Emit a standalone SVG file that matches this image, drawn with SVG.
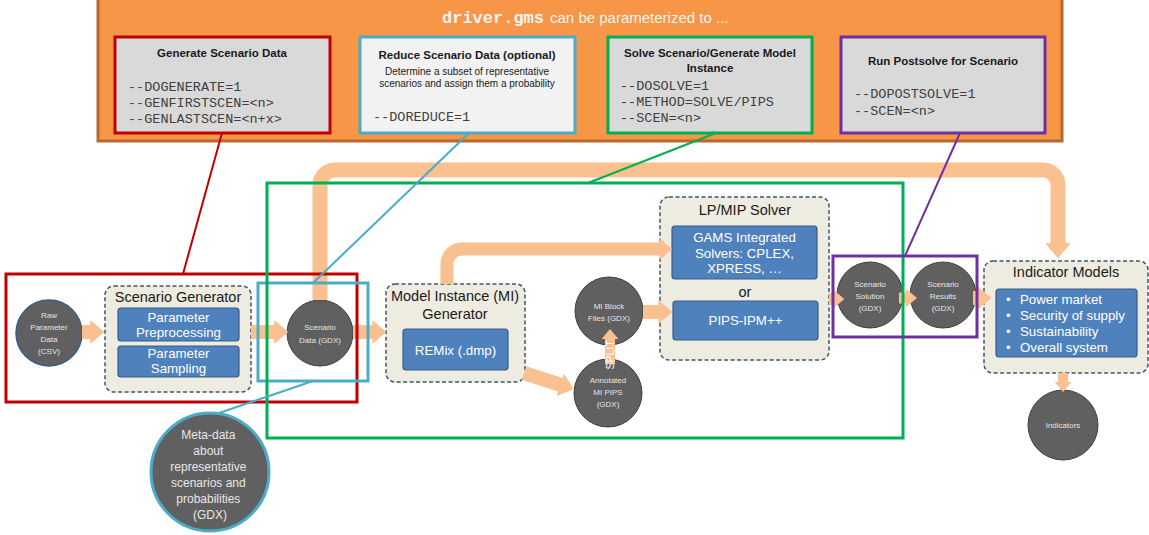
<svg xmlns="http://www.w3.org/2000/svg" width="1149" height="535" viewBox="0 0 1149 535">
<style>
.sans{font-family:"Liberation Sans",Arial,sans-serif}
.mono{font-family:"Liberation Mono","Courier New",monospace;font-size:13.5px;fill:#404040}
.ptitle{font-family:"Liberation Sans",Arial,sans-serif;font-size:11.5px;font-weight:bold;fill:#1a1a1a;text-anchor:middle}
.pdesc{font-family:"Liberation Sans",Arial,sans-serif;font-size:10px;fill:#1a1a1a;text-anchor:middle}
.pbox{stroke-width:3}
.dash{fill:#eeece1;stroke:#44546a;stroke-width:1.5;stroke-dasharray:4 2.5}
.dtitle{font-family:"Liberation Sans",Arial,sans-serif;font-size:14.5px;fill:#1a1a1a;text-anchor:middle}
.blue{fill:#4f81bd;stroke:#385d8a;stroke-width:1.2}
.btext{font-family:"Liberation Sans",Arial,sans-serif;font-size:13.3px;fill:#ffffff;text-anchor:middle}
.blist{font-family:"Liberation Sans",Arial,sans-serif;font-size:13.3px;fill:#ffffff;text-anchor:start}
.circ{fill:#606060;stroke:#3f3f3f;stroke-width:1}
.ctext{font-family:"Liberation Sans",Arial,sans-serif;font-size:8px;fill:#e6e6e6;text-anchor:middle}
.flow{fill:none;stroke:#fac08f;marker-end:url(#ah)}
.frame{fill:none;stroke-width:3}
.call{fill:none;stroke-width:2}
</style>
<defs>
<marker id="ah" viewBox="0 0 10 17" markerWidth="1" markerHeight="1.7" refX="0.5" refY="8.5" orient="auto" markerUnits="strokeWidth">
<path d="M0,0 L10,8.5 L0,17 z" fill="#fac08f"/>
</marker>
</defs>

<g id="banner">
<rect x="98" y="-2" width="964" height="143" fill="#f79646" stroke="#b9682e" stroke-width="3"/>
<text x="442" y="23" class="sans" fill="#f5f5f5"><tspan font-family="Liberation Mono,monospace" font-weight="bold" font-size="17">driver.gms</tspan><tspan font-size="15" dx="6">can be parameterized to ...</tspan></text>
</g>

<g id="p-generate">
<rect class="pbox" x="115" y="37" width="215" height="96" fill="#d9d9d9" stroke="#c00000"/>
<text class="ptitle" x="222" y="57">Generate Scenario Data</text>
<text class="mono" x="128" y="91">--DOGENERATE=1</text>
<text class="mono" x="128" y="107">--GENFIRSTSCEN=&lt;n&gt;</text>
<text class="mono" x="128" y="123">--GENLASTSCEN=&lt;n+x&gt;</text>
</g>
<g id="p-reduce">
<rect class="pbox" x="360" y="37" width="215" height="96" fill="#f2f2f2" stroke="#4bacc6"/>
<text class="ptitle" x="467" y="59">Reduce Scenario Data (optional)</text>
<text class="pdesc" x="467" y="74.5">Determine a subset of representative</text>
<text class="pdesc" x="467" y="87">scenarios and assign them a probability</text>
<text class="mono" x="373" y="121">--DOREDUCE=1</text>
</g>
<g id="p-solve">
<rect class="pbox" x="608" y="37" width="204" height="96" fill="#d9d9d9" stroke="#00b050"/>
<text class="ptitle" x="710" y="57">Solve Scenario/Generate Model</text>
<text class="ptitle" x="710" y="72">Instance</text>
<text class="mono" x="620" y="90">--DOSOLVE=1</text>
<text class="mono" x="620" y="106">--METHOD=SOLVE/PIPS</text>
<text class="mono" x="620" y="122">--SCEN=&lt;n&gt;</text>
</g>
<g id="p-postsolve">
<rect class="pbox" x="841" y="37" width="204" height="96" fill="#d9d9d9" stroke="#7030a0"/>
<text class="ptitle" x="943" y="65">Run Postsolve for Scenario</text>
<text class="mono" x="854" y="98">--DOPOSTSOLVE=1</text>
<text class="mono" x="854" y="115">--SCEN=&lt;n&gt;</text>
</g>

<g id="raw-data">
<circle cx="49" cy="333" r="33" fill="#606060" stroke="#385d8a" stroke-width="1.5"/>
<text class="ctext" x="49" y="318">Raw</text>
<text class="ctext" x="49" y="330">Parameter</text>
<text class="ctext" x="49" y="342">Data</text>
<text class="ctext" x="49" y="354">(CSV)</text>
</g>
<g id="scenario-generator">
<rect class="dash" x="105" y="286" width="146" height="106" rx="9"/>
<text class="dtitle" x="178" y="302">Scenario Generator</text>
<rect class="blue" x="118" y="308" width="121" height="33" rx="3"/>
<text class="btext" x="178.5" y="322">Parameter</text>
<text class="btext" x="178.5" y="337">Preprocessing</text>
<rect class="blue" x="118" y="346" width="121" height="31" rx="3"/>
<text class="btext" x="178.5" y="358">Parameter</text>
<text class="btext" x="178.5" y="373">Sampling</text>
</g>
<g id="scenario-data">
<circle class="circ" cx="320" cy="333" r="33"/>
<text class="ctext" x="320" y="330">Scenario</text>
<text class="ctext" x="320" y="343">Data (GDX)</text>
</g>
<g id="meta-data">
<circle cx="210" cy="472" r="59" fill="#606060" stroke="#4bacc6" stroke-width="3"/>
<text class="sans" font-size="12" fill="#e6e6e6" text-anchor="middle">
<tspan x="210" y="439">Meta-data</tspan>
<tspan x="210" y="455">about</tspan>
<tspan x="210" y="471">representative</tspan>
<tspan x="210" y="487">scenarios and</tspan>
<tspan x="210" y="503">probabilities</tspan>
<tspan x="210" y="519">(GDX)</tspan>
</text>
</g>
<g id="mi-generator">
<rect class="dash" x="386" y="284" width="139" height="98" rx="9"/>
<text class="dtitle" x="455" y="301">Model Instance (MI)</text>
<text class="dtitle" x="455" y="319">Generator</text>
<rect class="blue" x="403" y="329" width="105" height="41" rx="3"/>
<text class="btext" x="455.5" y="355">REMix (.dmp)</text>
</g>
<g id="mi-block-files">
<circle class="circ" cx="609" cy="311" r="34"/>
<text class="ctext" x="609" y="309">MI Block</text>
<text class="ctext" x="609" y="321">Files (GDX)</text>
</g>
<g id="annotated-mi">
<circle class="circ" cx="608" cy="393" r="34"/>
<text class="ctext" x="608" y="383">Annotated</text>
<text class="ctext" x="608" y="395">MI PIPS</text>
<text class="ctext" x="608" y="407">(GDX)</text>
</g>
<g id="lp-mip-solver">
<rect class="dash" x="660" y="197" width="169" height="163" rx="9"/>
<text class="dtitle" x="745" y="215">LP/MIP Solver</text>
<rect class="blue" x="672" y="226" width="145" height="53" rx="3"/>
<text class="btext" x="744.5" y="242">GAMS Integrated</text>
<text class="btext" x="744.5" y="258">Solvers: CPLEX,</text>
<text class="btext" x="744.5" y="273">XPRESS, …</text>
<text class="dtitle" x="745" y="297">or</text>
<rect class="blue" x="673" y="301" width="145" height="39" rx="3"/>
<text class="btext" x="745.5" y="325">PIPS-IPM++</text>
</g>
<g id="scenario-solution">
<circle class="circ" cx="870" cy="295" r="33"/>
<text class="ctext" x="870" y="287">Scenario</text>
<text class="ctext" x="870" y="299">Solution</text>
<text class="ctext" x="870" y="311">(GDX)</text>
</g>
<g id="scenario-results">
<circle class="circ" cx="943" cy="295" r="33"/>
<text class="ctext" x="943" y="287">Scenario</text>
<text class="ctext" x="943" y="299">Results</text>
<text class="ctext" x="943" y="311">(GDX)</text>
</g>
<g id="indicator-models">
<rect class="dash" x="984" y="261" width="164" height="112" rx="9"/>
<text class="dtitle" x="1066" y="277">Indicator Models</text>
<rect class="blue" x="996" y="289" width="141" height="68" rx="3"/>
<text class="blist" x="1006" y="304">•</text><text class="blist" x="1020" y="304">Power market</text>
<text class="blist" x="1006" y="320">•</text><text class="blist" x="1020" y="320">Security of supply</text>
<text class="blist" x="1006" y="336">•</text><text class="blist" x="1020" y="336">Sustainability</text>
<text class="blist" x="1006" y="352">•</text><text class="blist" x="1020" y="352">Overall system</text>
</g>
<g id="indicators">
<circle class="circ" cx="1063" cy="425" r="35"/>
<text class="ctext" x="1063" y="428" font-size="8.5">Indicators</text>
</g>

<g id="connectors">
<path class="flow" stroke-width="14" d="M82,332 H91"/>
<path class="flow" stroke-width="14" d="M251,332 H275"/>
<path class="flow" stroke-width="14" d="M353,332 H373"/>
<path class="flow" stroke-width="15" d="M320,300 V185 A15,15 0 0 1 335,170 H1043 A15,15 0 0 1 1058,185 V244"/>
<path class="flow" stroke-width="13" d="M447,284 V264 A15,15 0 0 1 462,249 H660"/>
<path class="flow" stroke-width="14" d="M524,373 L561,385"/>
<path class="flow" stroke-width="10" d="M610,364 V338.5"/>
<path class="flow" stroke-width="14" d="M643,312 H659"/>
<path class="flow" stroke-width="12" d="M829,299 H833"/>
<path class="flow" stroke-width="11" d="M899,298 H906.5"/>
<path class="flow" stroke-width="14" d="M973,298 H978"/>
<path class="flow" stroke-width="10" d="M1063,373 V382.5"/>
<text class="sans" font-size="10.5" fill="#ffffff" text-anchor="middle" transform="translate(614,355) rotate(-90)">SPLIT</text>
</g>

<g id="frames">
<rect class="frame" x="6" y="274" width="351" height="128" stroke="#c00000"/>
<rect class="frame" x="258" y="283" width="110" height="98" stroke="#4bacc6"/>
<rect class="frame" x="267" y="183" width="636" height="255" stroke="#00b050"/>
<rect class="frame" x="833" y="256" width="144" height="81" stroke="#7030a0"/>
</g>

<g id="callouts">
<line class="call" x1="222" y1="133" x2="183" y2="274" stroke="#c00000"/>
<line class="call" x1="469" y1="133" x2="313" y2="283" stroke="#4bacc6"/>
<line class="call" x1="313" y1="381" x2="216" y2="414" stroke="#4bacc6"/>
<line class="call" x1="716" y1="133" x2="588" y2="183" stroke="#00b050"/>
<line class="call" x1="960" y1="133" x2="905" y2="256" stroke="#7030a0"/>
</g>
</svg>
